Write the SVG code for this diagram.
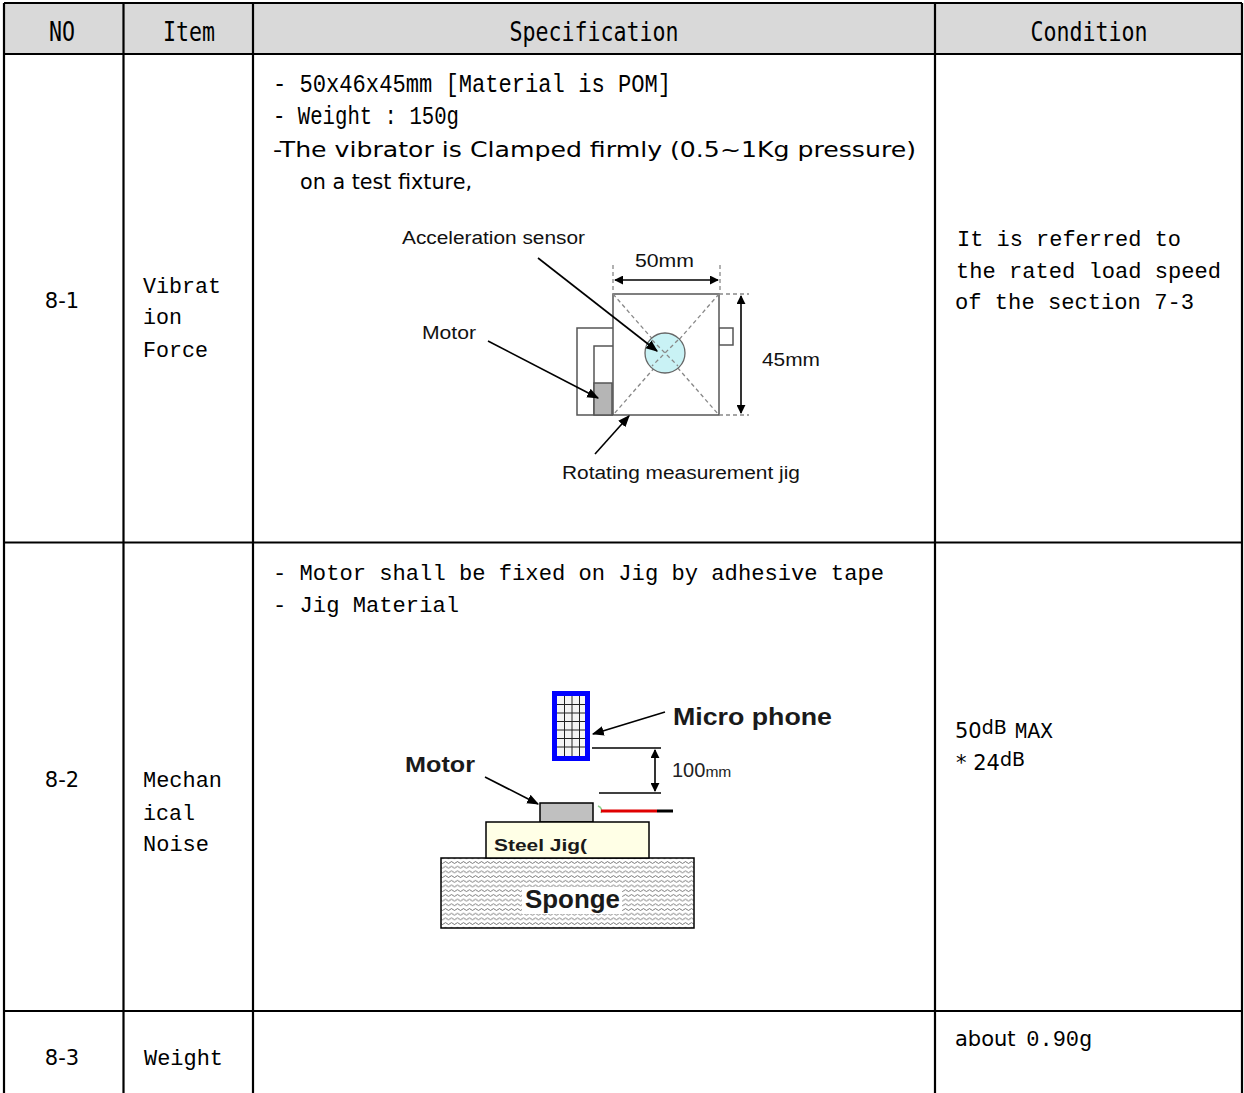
<svg xmlns="http://www.w3.org/2000/svg" width="1244" height="1093" viewBox="0 0 1244 1093">
<style>
.grid{stroke:#000;stroke-width:2.2;fill:none}
.hd{font-family:"DejaVu Sans Mono",monospace;font-size:27px;fill:#000}
.m{font-family:"Liberation Mono","DejaVu Sans Mono",monospace;font-size:22px;fill:#000}
.p{font-family:"DejaVu Sans",sans-serif;font-size:21px;fill:#000}
.a{font-family:"Liberation Sans",Arial,sans-serif;font-size:18px;fill:#111}
.b{font-family:"Liberation Sans",Arial,sans-serif;font-weight:bold;fill:#1a1a1a}
.ln{stroke:#000;stroke-width:1.6;fill:none}
.dl{stroke:#888;stroke-width:1.3;stroke-dasharray:4 3;fill:none}
.sh{stroke:#555;stroke-width:1.5}
</style>
<defs>
<marker id="ah" viewBox="0 0 10 10" refX="9" refY="5" markerWidth="9" markerHeight="9" markerUnits="userSpaceOnUse" orient="auto-start-reverse">
<path d="M0,0 L10,5 L0,10 z" fill="#000"/>
</marker>
<marker id="ah2" viewBox="0 0 10 10" refX="9" refY="5" markerWidth="12" markerHeight="12" markerUnits="userSpaceOnUse" orient="auto-start-reverse">
<path d="M0,1 L10,5 L0,9 z" fill="#000"/>
</marker>
<pattern id="wave" width="6" height="4.7" patternUnits="userSpaceOnUse">
<path d="M0,2.4 Q1.5,0.6 3,2.4 T6,2.4" stroke="#555" stroke-width="0.8" fill="none"/>
</pattern>
</defs>

<g id="table">
<rect x="4" y="3" width="1238" height="51" fill="#d9d9d9"/>
<path class="grid" d="M4,3 H1242 M4,54 H1242 M4,542.5 H1242 M4,1011 H1242 M4,3 V1093 M123.5,3 V1093 M253,3 V1093 M935,3 V1093 M1242,3 V1093"/>
</g>

<g id="header">
<text class="hd" x="62" y="41" text-anchor="middle" textLength="26" lengthAdjust="spacingAndGlyphs">NO</text>
<text class="hd" x="189" y="41" text-anchor="middle" textLength="52" lengthAdjust="spacingAndGlyphs">Item</text>
<text class="hd" x="594" y="41" text-anchor="middle" textLength="169" lengthAdjust="spacingAndGlyphs">Specification</text>
<text class="hd" x="1089" y="41" text-anchor="middle" textLength="117" lengthAdjust="spacingAndGlyphs">Condition</text>
</g>

<g id="row-8-1">
<text class="p" x="62" y="308" text-anchor="middle">8-1</text>
<text class="m" x="143" y="293" textLength="78" lengthAdjust="spacingAndGlyphs">Vibrat</text>
<text class="m" x="143" y="324" textLength="39" lengthAdjust="spacingAndGlyphs">ion</text>
<text class="m" x="143" y="357" textLength="65" lengthAdjust="spacingAndGlyphs">Force</text>
<text class="m" x="273" y="92" style="font-size:25px" textLength="398" lengthAdjust="spacingAndGlyphs">- 50x46x45mm [Material is POM]</text>
<text class="m" x="273" y="124" style="font-size:25px" textLength="186" lengthAdjust="spacingAndGlyphs">- Weight : 150g</text>
<text class="p" x="273" y="157" style="font-size:22px" textLength="643" lengthAdjust="spacingAndGlyphs">-The vibrator is Clamped firmly (0.5~1Kg pressure)</text>
<text class="p" x="300" y="189" style="font-size:22px" textLength="172" lengthAdjust="spacingAndGlyphs">on a test fixture,</text>
<text class="m" x="957" y="246" textLength="224" lengthAdjust="spacingAndGlyphs">It is referred to</text>
<text class="m" x="956" y="278" textLength="265" lengthAdjust="spacingAndGlyphs">the rated load speed</text>
<text class="m" x="955" y="309" textLength="239" lengthAdjust="spacingAndGlyphs">of the section 7-3</text>
</g>

<g id="fig-vibration">
<line class="dl" x1="613" y1="265" x2="613" y2="293"/>
<line class="dl" x1="720" y1="265" x2="720" y2="293"/>
<line class="ln" x1="615" y1="280" x2="718" y2="280" marker-start="url(#ah)" marker-end="url(#ah)"/>
<path d="M613,328 H577 V415 H613 M613,346 H594 V415" fill="#fff" class="sh"/>
<rect x="594" y="383" width="18" height="32" fill="#b5b5b5" class="sh"/>
<rect x="719" y="328" width="14" height="17" fill="#fff" class="sh"/>
<rect x="613" y="294" width="106" height="121" fill="#fff" class="sh"/>
<path class="dl" d="M613,294 L719,415 M719,294 L613,415"/>
<circle cx="665" cy="353" r="20" fill="#c9f2f5" stroke="#666" stroke-width="1.3"/>
<path class="dl" d="M652,340 L678,366 M678,340 L652,366"/>
<line class="dl" x1="719" y1="294" x2="749" y2="294"/>
<line class="dl" x1="719" y1="415" x2="749" y2="415"/>
<line class="ln" x1="741" y1="296" x2="741" y2="413" marker-start="url(#ah)" marker-end="url(#ah)"/>
<g id="connectors-vibration">
<line class="ln" x1="538" y1="258" x2="657" y2="351" marker-end="url(#ah2)"/>
<line class="ln" x1="488" y1="341" x2="598" y2="398" marker-end="url(#ah2)"/>
<line class="ln" x1="595" y1="454" x2="629" y2="416" marker-end="url(#ah2)"/>
</g>
<text class="a" x="402" y="244" textLength="183" lengthAdjust="spacingAndGlyphs">Acceleration sensor</text>
<text class="a" x="635" y="267" textLength="59" lengthAdjust="spacingAndGlyphs">50mm</text>
<text class="a" x="422" y="339" textLength="54" lengthAdjust="spacingAndGlyphs">Motor</text>
<text class="a" x="762" y="366" textLength="58" lengthAdjust="spacingAndGlyphs">45mm</text>
<text class="a" x="562" y="479" textLength="238" lengthAdjust="spacingAndGlyphs">Rotating measurement jig</text>
</g>

<g id="row-8-2">
<text class="p" x="62" y="787" text-anchor="middle">8-2</text>
<text class="m" x="143" y="787" textLength="79" lengthAdjust="spacingAndGlyphs">Mechan</text>
<text class="m" x="143" y="820" textLength="52" lengthAdjust="spacingAndGlyphs">ical</text>
<text class="m" x="143" y="851" textLength="66" lengthAdjust="spacingAndGlyphs">Noise</text>
<text class="m" x="273" y="580" textLength="611" lengthAdjust="spacingAndGlyphs">- Motor shall be fixed on Jig by adhesive tape</text>
<text class="m" x="273" y="612" textLength="186" lengthAdjust="spacingAndGlyphs">- Jig Material</text>
<text class="p" x="955" y="738">50<tspan dy="-4" font-size="19">dB</tspan><tspan dy="4" font-family="Liberation Mono, monospace" font-size="22" dx="8" textLength="38" lengthAdjust="spacingAndGlyphs">MAX</tspan></text>
<text class="p" x="956" y="770">* 24<tspan dy="-4" font-size="19">dB</tspan></text>
</g>

<g id="fig-noise">
<rect x="554.5" y="693.5" width="33" height="65" fill="#f4f4f4" stroke="#0000ff" stroke-width="5"/>
<path d="M564.5,696 V756 M572,696 V756 M579.5,696 V756 M557,704.5 H585 M557,713 H585 M557,721.5 H585 M557,730 H585 M557,738.5 H585 M557,747 H585" stroke="#222" stroke-width="1"/>
<line class="ln" x1="665" y1="712" x2="593" y2="734" marker-end="url(#ah2)"/>
<text class="b" x="673" y="725" font-size="23" textLength="159" lengthAdjust="spacingAndGlyphs">Micro phone</text>
<line class="ln" x1="592" y1="748" x2="661" y2="748"/>
<line class="ln" x1="599" y1="793" x2="661" y2="793"/>
<line class="ln" x1="655" y1="750" x2="655" y2="791" marker-start="url(#ah)" marker-end="url(#ah)"/>
<text x="672" y="777" font-family="Liberation Sans, Arial, sans-serif" font-size="20" fill="#222">100<tspan font-size="15" textLength="26" lengthAdjust="spacingAndGlyphs">mm</tspan></text>
<text class="b" x="405" y="772" font-size="22" textLength="70" lengthAdjust="spacingAndGlyphs">Motor</text>
<line class="ln" x1="485" y1="777" x2="538" y2="804" marker-end="url(#ah2)"/>
<rect x="540" y="803" width="53" height="19" fill="#c0c0c0" stroke="#000" stroke-width="1.5"/>
<path d="M598,806 Q603,808 601,813" stroke="#8fcf8f" stroke-width="1.5" fill="none"/>
<line x1="601" y1="811" x2="657" y2="811" stroke="#e00000" stroke-width="3"/>
<line x1="657" y1="811" x2="673" y2="811" stroke="#000" stroke-width="3"/>
<rect x="441" y="858" width="253" height="70" fill="#fff" stroke="none"/>
<rect x="441" y="858" width="253" height="70" fill="url(#wave)" stroke="#000" stroke-width="1.5"/>
<rect x="486" y="822" width="163" height="36" fill="#ffffe6" stroke="#000" stroke-width="1.5"/>
<text class="b" x="494" y="851" font-size="17" fill="#1a1a40" textLength="93" lengthAdjust="spacingAndGlyphs">Steel Jig(</text>
<rect x="522" y="887" width="100" height="27" fill="#fff"/>
<text class="b" x="525" y="908" font-size="25" textLength="95" lengthAdjust="spacingAndGlyphs">Sponge</text>
</g>

<g id="row-8-3">
<text class="p" x="62" y="1065" text-anchor="middle">8-3</text>
<text class="m" x="144" y="1065" textLength="79" lengthAdjust="spacingAndGlyphs">Weight</text>
<text class="p" x="955" y="1046">about <tspan font-family="Liberation Mono, monospace" font-size="22" dx="4">0.90g</tspan></text>
</g>
</svg>
